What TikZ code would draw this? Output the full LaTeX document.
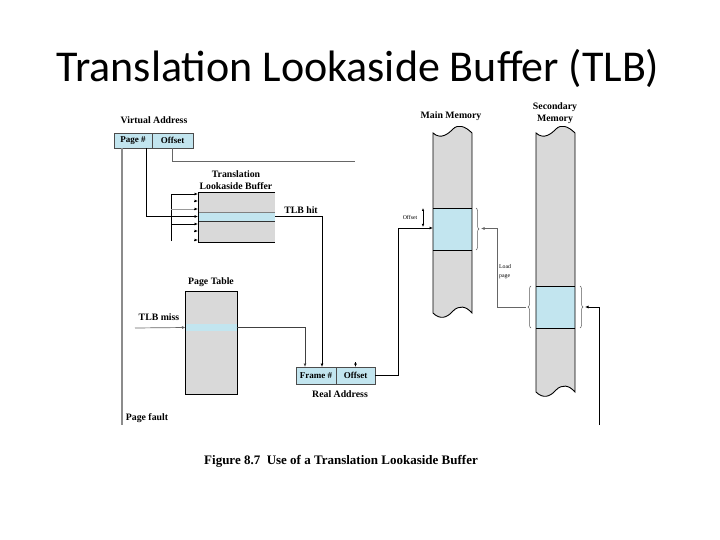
\documentclass[tikz,border=0pt]{standalone}
\usepackage{fontspec}
\setmainfont{Liberation Serif}
\newfontfamily\titlefont{Carlito}
\usetikzlibrary{arrows.meta,decorations.pathreplacing}
\definecolor{cellblue}{HTML}{C2E5EF}
\definecolor{memgray}{HTML}{D9D9D9}
\begin{document}
\begin{tikzpicture}[x=1pt,y=-1pt,
  lbl/.style={font=\fontsize{9.8}{11}\selectfont\bfseries, inner sep=0pt},
  tinylbl/.style={font=\fontsize{5.8}{6.5}\selectfont, inner sep=0pt},
  cell/.style={draw=black!70, fill=cellblue, line width=0.6pt, inner sep=0pt, outer sep=0pt, minimum height=15pt, font=\fontsize{9}{10}\selectfont\bfseries},
  band/.style={fill=memgray, inner sep=0pt, outer sep=0pt},
  rowband/.style={fill=cellblue, inner sep=0pt, outer sep=0pt},
  conn/.style={line width=0.7pt},
  arr/.style={conn, -{Latex[length=3.5pt,width=3pt]}},
  brc/.style={decorate, decoration={brace, amplitude=3pt}, black!65, line width=0.5pt},
]
\useasboundingbox (0,0) rectangle (720,540);
% title
\node[font=\titlefont\fontsize{44}{50}\selectfont, inner sep=0pt, anchor=base] (title) at (358,82) {Translation Lookaside Buffer (TLB)};

% virtual address
\node[lbl] (valbl) at (154,120) {Virtual Address};
\node[cell, minimum width=38pt] (pg) at (133,140.5) {Page \#};
\node[cell, minimum width=41pt] (off) at (172.5,140.5) {Offset};
\coordinate (pf) at (122,425);
\draw[line width=1.8pt, black!45] (pg.south -| pf) -- (pf);
\node[lbl] (pflbl) at (147,418) {Page fault};

% TLB
\node[lbl] (tlbl1) at (236,174) {Translation};
\node[lbl] (tlbl2) at (236,186) {Lookaside Buffer};
\node[band, minimum width=77pt, minimum height=50pt] (tlb) at (236.5,217) {};
\node[rowband, minimum width=77pt, minimum height=9pt] (tlbrow) at (236.5,216.5) {};
\draw[black!50, line width=0.6pt] (tlbrow.north west) -- (tlbrow.north east);
\draw[black!80, line width=0.8pt] (tlbrow.south west) -- (tlbrow.south east);
\draw[line width=0.9pt] (tlb.north east) -- (tlb.north west) -- (tlb.south west) -- (tlb.south east);
\coordinate (tv1) at (171,194);
\coordinate (tv2) at (171,241);
\draw[conn] (tv2) -- (tv1) -- ([xshift=-4pt]tlb.west |- tv1);
\draw[conn] (171,224) -- ([xshift=-4pt]tlb.west |- 0,224);
\draw[conn, black!40] (171,209) -- ([xshift=-4pt]tlb.west |- 0,209);
\foreach \yy in {194,201,209,224,231,240}
  \draw[arr] ([xshift=-4pt]tlb.west |- 0,\yy) -- (tlb.west |- 0,\yy);
\draw[arr] ([xshift=13pt]pg.south) |- (tlbrow.west);
\coordinate (offend) at (355,161);
\draw[conn, black!60] (off.south) |- (offend);

% real address
\node[cell, minimum width=40pt, minimum height=17pt] (fr) at (316,375.5) {Frame \#};
\node[cell, minimum width=39pt, minimum height=17pt] (roff) at (355.5,375.5) {Offset};
\node[lbl] (ralbl) at (340,394) {Real Address};
\draw[arr] ([yshift=5pt]roff.north) -- (roff.north);

% TLB hit
\node[lbl] (hitlbl) at (301,210) {TLB hit};
\draw[arr] (tlbrow.east) -| ([xshift=6pt]fr.north);

% page table
\node[lbl] (ptlbl) at (211,282) {Page Table};
\node[band, draw, line width=0.9pt, minimum width=52pt, minimum height=103pt] (pt) at (211,342.5) {};
\node[rowband, minimum width=51pt, minimum height=7pt] (ptrow) at (211,327.5) {};
\node[lbl] (misslbl) at (159,317) {TLB miss};
\coordinate (missin) at (135,328);
\draw[arr, black!60] (missin) -- (ptrow.west);
\draw[arr, black!75] (ptrow.east) -| ([xshift=-11pt]fr.north);

% main memory
\node[lbl] (mmlbl) at (451,116) {Main Memory};
\path[fill=memgray] (433,133) .. controls (441,140) and (448,134) .. (453,129) .. controls (458,124) and (465,126) .. (472,133) -- (472,313) .. controls (466,306) and (459,305) .. (453,311) .. controls (447,318) and (440,320) .. (433,313) -- cycle;
\node[rowband, minimum width=39pt, minimum height=42pt] (mmf) at (452.5,229) {};
\draw[line width=0.9pt] (mmf.north west) -- (mmf.north east) (mmf.south west) -- (mmf.south east);
\draw[line width=0.9pt] (433,133) .. controls (441,140) and (448,134) .. (453,129) .. controls (458,124) and (465,126) .. (472,133) -- (472,313) .. controls (466,306) and (459,305) .. (453,311) .. controls (447,318) and (440,320) .. (433,313) -- cycle;
\draw[conn, {Latex[length=3pt,width=2.5pt]}-{Latex[length=3pt,width=2.5pt]}] (423,208) -- (423,227);
\node[tinylbl] (offlbl) at (410,217) {Offset};
\coordinate (mmin) at (398,228);
\draw[arr] (roff.east) -| (mmin) -- (mmf.west |- mmin);
\draw[brc] (476,208) -- (476,250);
\coordinate (mmbr) at (481,228.5);

% secondary memory
\node[lbl] (smlbl1) at (555,107) {Secondary};
\node[lbl] (smlbl2) at (555,119) {Memory};
\path[fill=memgray] (536,133) .. controls (544,140) and (551,134) .. (556,129) .. controls (561,124) and (568,126) .. (575,133) -- (575,392) .. controls (569,385) and (562,384) .. (556,390) .. controls (550,397) and (543,399) .. (536,392) -- cycle;
\node[rowband, minimum width=39pt, minimum height=42pt] (smf) at (555.5,307) {};
\draw[line width=0.9pt] (smf.north west) -- (smf.north east) (smf.south west) -- (smf.south east);
\draw[line width=0.9pt] (536,133) .. controls (544,140) and (551,134) .. (556,129) .. controls (561,124) and (568,126) .. (575,133) -- (575,392) .. controls (569,385) and (562,384) .. (556,390) .. controls (550,397) and (543,399) .. (536,392) -- cycle;
\draw[brc] (531,328) -- (531,286);
\draw[brc] (580,286) -- (580,328);
\coordinate (smbrl) at (526,307.5);
\coordinate (smbrr) at (585,307);

% load page
\coordinate (lp1) at (497.5,228.5);
\coordinate (lp2) at (497.5,307.5);
\draw[arr, black!60, line width=0.9pt] (smbrl) -- (lp2) -- (lp1) -- (mmbr);
\node[tinylbl, anchor=west] (ld1) at (499,267) {Load};
\node[tinylbl, anchor=west] (ld2) at (499,277) {page};

% page in from below
\coordinate (bot) at (599,425);
\draw[arr] (bot) |- (smbrr);

% caption
\node[font=\fontsize{13}{15}\selectfont\bfseries, inner sep=0pt] (cap) at (341,461) {Figure 8.7\ \ Use of a Translation Lookaside Buffer};
\end{tikzpicture}
\end{document}
